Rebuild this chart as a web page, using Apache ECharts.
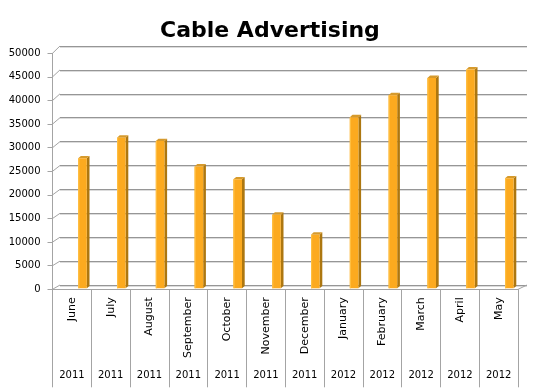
<!DOCTYPE html>
<html><head><meta charset="utf-8">
<script src="https://cdn.jsdelivr.net/npm/echarts@6/dist/echarts.min.js"></script>
<style>html,body{margin:0;padding:0;background:#fff}#c{width:546px;height:390px}</style>
</head><body><div id="c"></div>
<script>
const chartTitle = 'Cable Advertising';
const months = ['June','July','August','September','October','November','December','January','February','March','April','May'];
const years = ['2011','2011','2011','2011','2011','2011','2011','2012','2012','2012','2012','2012'];
const values = [27200,31500,30800,25500,22800,15400,11200,35800,40400,44000,45800,23000];
const yTicks = [0,5000,10000,15000,20000,25000,30000,35000,40000,45000,50000];

const FONT = 'DejaVu Sans';
const GRID_FRONT = {left:52.5, top:53.3, width:465.6, height:236};
const GRID_BACK = {left:60, top:46, width:467, height:239};
const GRID_BARS = {left:63.1, top:49.3, width:465.6, height:239};
const yMax = yTicks[yTicks.length-1];
const yStep = yTicks[1]-yTicks[0];

const chart = echarts.init(document.getElementById('c'), null, {renderer:'canvas'});

function bar3d(params, api){
  const i = api.value(0), v = api.value(1);
  const base = api.coord([i, 0]);
  const top = api.coord([i, v]);
  const w = 8.6, d = 2.7, dy = 2.4;
  const x = base[0] - w/2;
  return {type:'group', children:[
    {type:'polygon', shape:{points:[[x+w,top[1]],[x+w+d,top[1]-dy],[x+w+d,base[1]-dy],[x+w,base[1]]]}, style:{fill:'#AD7710'}},
    {type:'polygon', shape:{points:[[x,top[1]],[x+d,top[1]-dy],[x+w+d,top[1]-dy],[x+w,top[1]]]}, style:{fill:'#D69A2C'}},
    {type:'rect', shape:{x:x, y:top[1], width:w, height:base[1]-top[1]}, style:{fill:'#FCAA1F'}},
    {type:'rect', shape:{x:x, y:top[1], width:1.2, height:base[1]-top[1]}, style:{fill:'#FFBE40'}}
  ]};
}

const option = {
  animation:false,
  backgroundColor:'#ffffff',
  title:{text:chartTitle, left:155, top:15, textStyle:{fontFamily:FONT, fontWeight:'bold', fontSize:22, color:'#000'}},
  grid:[
    Object.assign({containLabel:false}, GRID_FRONT),
    Object.assign({containLabel:false}, GRID_BACK),
    Object.assign({containLabel:false}, GRID_BARS)
  ],
  xAxis:[
    {gridIndex:0, type:'category', data:months, position:'bottom',
     axisLine:{show:true, lineStyle:{color:'#a4a4a4', width:1}},
     axisTick:{show:true, interval:0, length:98, lineStyle:{color:'#a4a4a4'}},
     axisLabel:{interval:0, rotate:90, margin:8, fontFamily:FONT, fontSize:11, color:'#000'},
     splitLine:{show:false}},
    {gridIndex:0, type:'category', data:years, position:'bottom', offset:0,
     axisLine:{show:false}, axisTick:{show:false},
     axisLabel:{interval:0, margin:81, fontFamily:FONT, fontSize:10, color:'#000'},
     splitLine:{show:false}},
    {gridIndex:1, type:'category', data:months, show:false},
    {gridIndex:2, type:'category', data:months, show:false}
  ],
  yAxis:[
    {gridIndex:0, type:'value', min:0, max:yMax, interval:yStep,
     axisLine:{show:true, lineStyle:{color:'#a4a4a4'}},
     axisTick:{show:true, length:5, lineStyle:{color:'#a4a4a4'}},
     axisLabel:{margin:12, fontFamily:FONT, fontSize:10, color:'#000', formatter:(v)=>String(v)},
     splitLine:{show:false}},
    {gridIndex:1, type:'value', min:0, max:yMax, interval:yStep,
     axisLine:{show:false}, axisTick:{show:false}, axisLabel:{show:false},
     splitLine:{show:true, lineStyle:{color:'#969696', width:1, shadowColor:'#dcdcdc', shadowOffsetY:1, shadowBlur:0}}},
    {gridIndex:2, type:'value', min:0, max:yMax, interval:yStep, show:false}
  ],
  series:[
    {type:'custom', xAxisIndex:3, yAxisIndex:2, renderItem:bar3d, clip:false,
     data:values.map((v,i)=>[i,v])}
  ]
};
chart.setOption(option);

// side-wall diagonals connecting front axis ticks to back-wall gridlines, and floor right edge
const g = [];
yTicks.forEach(v=>{
  const yf = chart.convertToPixel({yAxisIndex:0}, v);
  const yb = chart.convertToPixel({yAxisIndex:1}, v);
  g.push({type:'line', shape:{x1:GRID_FRONT.left, y1:yf, x2:GRID_BACK.left, y2:yb}, style:{stroke:'#a4a4a4', lineWidth:1}, z:5});
});
const yf0 = chart.convertToPixel({yAxisIndex:0}, 0);
const yb0 = chart.convertToPixel({yAxisIndex:1}, 0);
g.push({type:'line', shape:{x1:GRID_FRONT.left+GRID_FRONT.width, y1:yf0, x2:GRID_BACK.left+GRID_BACK.width, y2:yb0}, style:{stroke:'#a4a4a4', lineWidth:1}, z:5});
chart.setOption({graphic:g});
</script></body></html>
